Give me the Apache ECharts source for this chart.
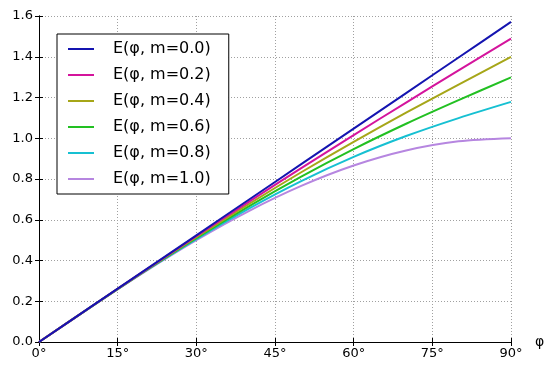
<!DOCTYPE html>
<html><head><meta charset="utf-8">
<script src="https://cdn.jsdelivr.net/npm/echarts@6/dist/echarts.min.js"></script>
<style>html,body{margin:0;padding:0;background:#fff}#c{width:550px;height:367px}</style>
</head><body><div id="c"></div>
<script>
var phiDeg = [0, 10, 20, 30, 40, 50, 60, 70, 80, 90];
var xTicks = [0, 15, 30, 45, 60, 75, 90];
var yTicks = [0.0, 0.2, 0.4, 0.6, 0.8, 1.0, 1.2, 1.4, 1.6];
var names = ['E(φ, m=0.0)', 'E(φ, m=0.2)', 'E(φ, m=0.4)', 'E(φ, m=0.6)', 'E(φ, m=0.8)', 'E(φ, m=1.0)'];
var e00 = [0, 0.1745, 0.3491, 0.5236, 0.6981, 0.8727, 1.0472, 1.2217, 1.3963, 1.5708];
var e02 = [0, 0.1744, 0.3477, 0.5190, 0.6877, 0.8533, 1.0157, 1.1753, 1.3327, 1.4890];
var e04 = [0, 0.1742, 0.3463, 0.5144, 0.6770, 0.8331, 0.9824, 1.1255, 1.2637, 1.3994];
var e06 = [0, 0.1740, 0.3449, 0.5097, 0.6660, 0.8120, 0.9469, 1.0713, 1.1872, 1.2984];
var e08 = [0, 0.1738, 0.3435, 0.5049, 0.6546, 0.7897, 0.9085, 1.0108, 1.0989, 1.1785];
var e10 = [0, 0.1736, 0.3420, 0.5000, 0.6428, 0.7660, 0.8660, 0.9397, 0.9848, 1.0000];
var colors = ['#1414b0', '#d4149c', '#a6a618', '#22c022', '#16c0d2', '#b686e0'];
var all = [e00, e02, e04, e06, e08, e10];

var chart = echarts.init(document.getElementById('c'), null, {renderer: 'canvas'});
var font = 'DejaVu Sans';
var series = all.map(function (arr, i) {
  return {
    name: names[i], type: 'line', symbol: 'none', smooth: 0.3,
    lineStyle: {width: 2, color: colors[i]}, itemStyle: {color: colors[i]},
    data: phiDeg.map(function (p, j) { return [p, arr[j]]; }),
    z: 10 - i
  };
});
var tickIn = {show: true, inside: true, length: 4, lineStyle: {color: '#000', width: 1}};
chart.setOption({
  animation: false,
  color: colors,
  grid: {left: 39, right: 39, top: 16, bottom: 25, containLabel: false},
  legend: {
    orient: 'vertical', left: 57, top: 34, itemWidth: 26, itemHeight: 16, itemGap: 10,
    padding: [7, 18, 7, 11], borderColor: '#000', borderWidth: 1, backgroundColor: '#fff',
    textStyle: {fontFamily: font, fontSize: 16, color: '#000', padding: [0, 0, 0, 14], lineHeight: 16},
    data: names.map(function (n, i) { return {name: n, icon: 'path://M0,0 L26,0 L26,2 L0,2 Z', itemStyle: {color: colors[i]}}; })
  },
  xAxis: [{
    type: 'value', min: 0, max: 90, interval: 15, position: 'bottom',
    name: 'φ', nameLocation: 'end', nameGap: 24,
    nameTextStyle: {fontFamily: font, fontSize: 14, color: '#000', verticalAlign: 'middle'},
    axisLine: {show: true, lineStyle: {color: '#000', width: 1}},
    axisTick: tickIn,
    axisLabel: {fontFamily: font, fontSize: 13, color: '#000', margin: 5, formatter: function (v) { return v + '°'; }},
    splitLine: {show: true, lineStyle: {color: '#a0a0a0', type: [1, 2], width: 1}}
  }, {
    type: 'value', min: 0, max: 90, interval: 15, position: 'top',
    axisLine: {show: true, lineStyle: {color: '#000', width: 1}},
    axisTick: tickIn, axisLabel: {show: false}, splitLine: {show: false}
  }],
  yAxis: [{
    type: 'value', min: 0, max: 1.6, interval: 0.2, position: 'left',
    axisLine: {show: true, lineStyle: {color: '#000', width: 1}},
    axisTick: tickIn,
    axisLabel: {fontFamily: font, fontSize: 13, color: '#000', margin: 6, formatter: function (v) { return v.toFixed(1); }},
    splitLine: {show: true, lineStyle: {color: '#a0a0a0', type: [1, 2], width: 1}}
  }, {
    type: 'value', min: 0, max: 1.6, interval: 0.2, position: 'right',
    axisLine: {show: true, lineStyle: {color: '#000', width: 1}},
    axisTick: tickIn, axisLabel: {show: false}, splitLine: {show: false}
  }],
  series: series
});
</script></body></html>
